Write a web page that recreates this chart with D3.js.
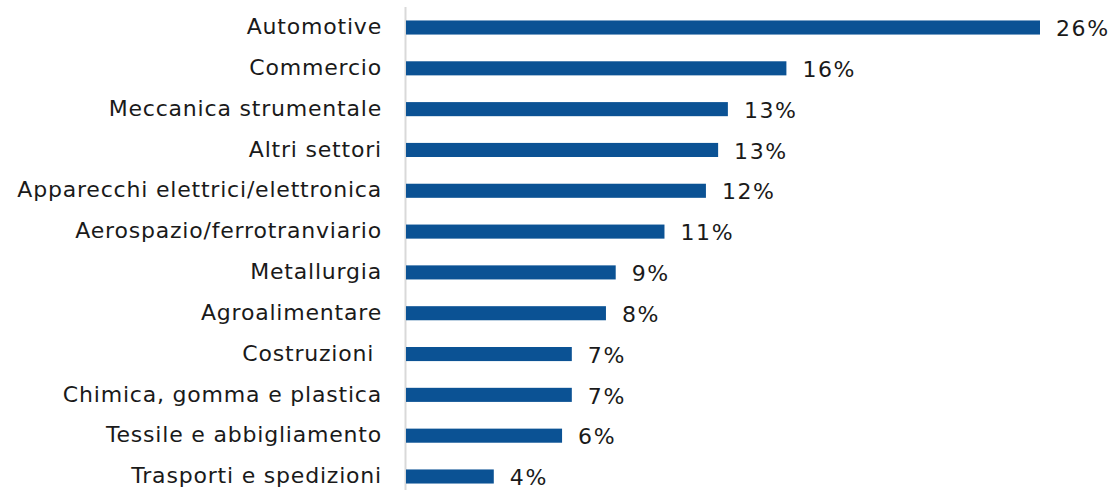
<!DOCTYPE html>
<html><head><meta charset="utf-8">
<script src="https://cdn.jsdelivr.net/npm/d3@7"></script>
<style>body{margin:0;background:#fff}svg{display:block}text{white-space:pre}</style>
</head><body>
<svg id="c" width="1116" height="490"></svg>
<script>
const categories = ["Automotive","Commercio","Meccanica strumentale","Altri settori","Apparecchi elettrici/elettronica","Aerospazio/ferrotranviario","Metallurgia","Agroalimentare","Costruzioni ","Chimica, gomma e plastica","Tessile e abbigliamento","Trasporti e spedizioni"];
const values = [26.0,15.6,13.2,12.8,12.3,10.6,8.6,8.2,6.8,6.8,6.4,3.6];

const svg = d3.select("#c");
const x = d3.scaleLinear().domain([0,26]).range([406,1040]);
const y = d3.scaleBand().domain(categories).range([7,497]).paddingInner(0.655).paddingOuter(0.33);

svg.append("line").attr("x1",405.5).attr("x2",405.5).attr("y1",7).attr("y2",490)
  .attr("stroke","#d9d9d9").attr("stroke-width",2);

const data = categories.map((c,i)=>({c,v:values[i]}));
svg.selectAll("rect.bar").data(data).join("rect").attr("class","bar")
  .attr("x",x(0)).attr("y",d=>y(d.c)).attr("width",d=>x(d.v)-x(0)).attr("height",y.bandwidth())
  .attr("fill","#0b5294");

const font = "DejaVu Sans, Verdana, sans-serif";
svg.selectAll("text.cat").data(data).join("text").attr("class","cat")
  .attr("x",382).attr("y",d=>y(d.c)+y.bandwidth()/2-1).attr("dy","0.35em")
  .attr("text-anchor","end").attr("font-family",font).attr("font-size",22)
  .attr("letter-spacing",0.8).attr("fill","#1a1a1a")
  .text(d=>d.c);
svg.selectAll("text.val").data(data).join("text").attr("class","val")
  .attr("x",d=>x(d.v)+16).attr("y",d=>y(d.c)+y.bandwidth()/2+1).attr("dy","0.35em")
  .attr("font-family",font).attr("font-size",22).attr("letter-spacing",1.6).attr("fill","#1a1a1a")
  .text(d=>Math.round(d.v)+"%");
</script>
</body></html>
